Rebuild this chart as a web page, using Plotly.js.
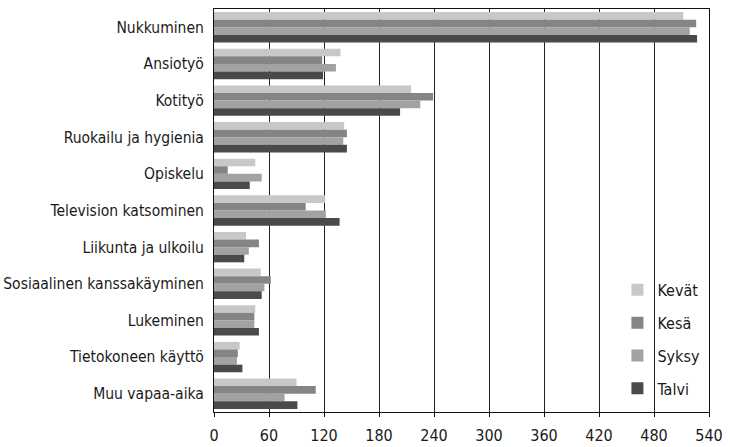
<!DOCTYPE html>
<html>
<head>
<meta charset="utf-8">
<script src="https://cdn.plot.ly/plotly-3.0.1.min.js"></script>
<style>
  body { margin: 0; background: #fff; }
  #chart { width: 730px; height: 447px; }
</style>
</head>
<body>
<div id="chart"></div>
<script>
var categories = ['Nukkuminen', 'Ansiotyö', 'Kotityö', 'Ruokailu ja hygienia', 'Opiskelu',
  'Television katsominen', 'Liikunta ja ulkoilu', 'Sosiaalinen kanssakäyminen',
  'Lukeminen', 'Tietokoneen käyttö', 'Muu vapaa-aika'];

var kevat = [512, 138, 215, 142, 45, 121, 35, 51, 45, 28, 90];
var kesa  = [526, 118, 239, 145, 15, 100, 49, 62, 44, 26, 111];
var syksy = [519, 133, 225, 141, 52, 122, 38, 55, 44, 25, 77];
var talvi = [527, 119, 203, 145, 39, 137, 33, 52, 49, 31, 91];

var tickVals = [0, 60, 120, 180, 240, 300, 360, 420, 480, 540];

makeTrace = (name, values, color) => {
	return {
	  type: 'bar',
	  orientation: 'h',
	  name: name,
	  legendgroup: name,
	  x: values,
	  y: categories,
	  marker: {color: color, line: {width: 0}}
	};
}

var data = [
  makeTrace('Kevät', kevat, '#c8c8c8'),
  makeTrace('Kesä', kesa, '#858585'),
  makeTrace('Syksy', syksy, '#a2a2a2'),
  makeTrace('Talvi', talvi, '#4a4a4a')
];

var font = {family: '"DejaVu Sans Condensed", sans-serif', size: 15.5, color: '#1a1a1a'};
var axisFont = {family: '"DejaVu Sans Condensed", sans-serif', size: 16, color: '#1a1a1a'};

var layout = {
  width: 730,
  height: 447,
  margin: {l: 214, r: 21, t: 9, b: 35},
  barmode: 'group',
  bargap: 0.17,
  bargroupgap: 0,
  font: font,
  paper_bgcolor: '#ffffff',
  plot_bgcolor: '#ffffff',
  showlegend: true,
  legend: {
    x: 0.815, y: 0.345, xanchor: 'left', yanchor: 'top',
    bgcolor: 'rgba(0,0,0,0)',
    traceorder: 'grouped',
    tracegroupgap: 9,
    font: axisFont,
    itemwidth: 30
  },
  xaxis: {
    range: [0, 540],
    tickvals: tickVals,
    ticktext: tickVals.map(String),
    showgrid: true,
    gridcolor: '#222',
    gridwidth: 1,
    showline: true,
    linecolor: '#111',
    linewidth: 1,
    mirror: true,
    ticks: 'outside',
    ticklen: 4,
    tickcolor: '#111',
    ticklabelstandoff: 5,
    zeroline: false,
    tickfont: axisFont
  },
  yaxis: {
    autorange: 'reversed',
    showline: true,
    linecolor: '#111',
    linewidth: 1,
    mirror: true,
    ticks: '',
    ticklabelstandoff: 6,
    tickfont: font
  }
};

Plotly.newPlot('chart', data, layout, {displayModeBar: false, staticPlot: true});
</script>
</body>
</html>
